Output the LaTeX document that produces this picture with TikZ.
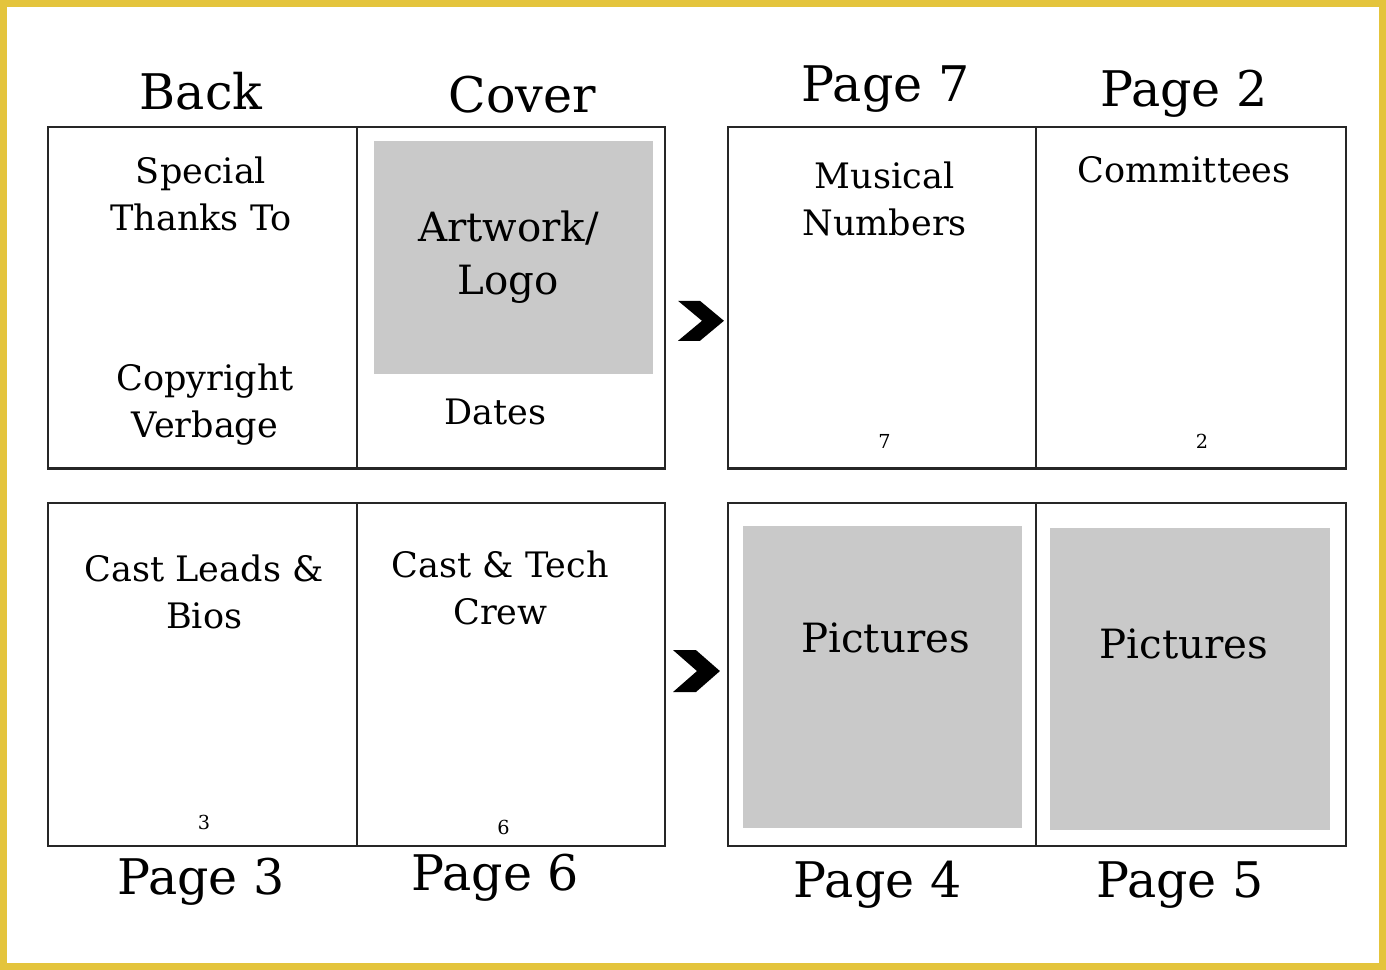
\documentclass[tikz,border=0pt]{standalone}
\usepackage{fontspec}
\setmainfont{DejaVu Serif}
\begin{document}
\begin{tikzpicture}[x=0.02cm,y=-0.02cm,
  panel/.style={draw=black!85,line width=1.2pt},
  photo/.style={fill=black!21,draw=none},
  head/.style={font=\fontsize{28}{32}\selectfont},
  body/.style={font=\fontsize{20}{27}\selectfont,align=center},
  big/.style={font=\fontsize{23}{30}\selectfont,align=center},
  num/.style={font=\fontsize{11}{13}\selectfont},
  chev/.style={fill=black}]
\fill[white] (0,0) rectangle (1386,969);
\draw[draw={rgb,255:red,228;green,196;blue,60},line width=4pt] (2,2) rectangle (1384,967);
% panels
\draw[panel] (47,126) rectangle (665,468); \draw[panel] (356,126) -- (356,468);
\draw[panel] (728,126) rectangle (1347,468); \draw[panel] (1037,126) -- (1037,468);
\draw[panel] (47,503) rectangle (665,846); \draw[panel] (356,503) -- (356,846);
\draw[panel] (728,503) rectangle (1347,846); \draw[panel] (1037,503) -- (1037,846);
% gray areas
\fill[photo] (373,140) rectangle (653,373);
\fill[photo] (743,526) rectangle (1023,828);
\fill[photo] (1051,528) rectangle (1331,830);
% chevrons
\fill[chev] (678,300) -- (700,300) -- (724,320) -- (700,340) -- (678,340) -- (702,320) -- cycle;
\fill[chev] (673,650) -- (696,650) -- (720,671) -- (696,692) -- (673,692) -- (697,671) -- cycle;
% headings
\node[head] (hb) at (200,90) {Back};
\node[head] (hc) at (522,93) {Cover};
\node[head] (h7) at (886,88) {Page 7};
\node[head] (h2) at (1185,92) {Page 2};
\node[head] (h3) at (200,882) {Page 3};
\node[head] (h6) at (495,878) {Page 6};
\node[head] (h4) at (878,885) {Page 4};
\node[head] (h5) at (1181,885) {Page 5};
% contents
\node[body] (st) at (200,193) {Special\\Thanks To};
\node[body] (cv) at (204,404) {Copyright\\Verbage};
\node[big] (al) at (508,256) {Artwork/\\Logo};
\node[body] (dt) at (495,411) {Dates};
\node[body] (mn) at (885,198) {Musical\\Numbers};
\node[body] (cm) at (1185,169) {Committees};
\node[num] (n7) at (885,441) {7};
\node[num] (n2) at (1203,441) {2};
\node[body] (cl) at (203,592) {Cast Leads \&\\Bios};
\node[body] (ct) at (500,588) {Cast \& Tech\\Crew};
\node[num] (n3) at (203,823) {3};
\node[num] (n6) at (503,828) {6};
\node[big] (p4) at (886,638) {Pictures};
\node[big] (p5) at (1185,644) {Pictures};
\end{tikzpicture}
\end{document}
